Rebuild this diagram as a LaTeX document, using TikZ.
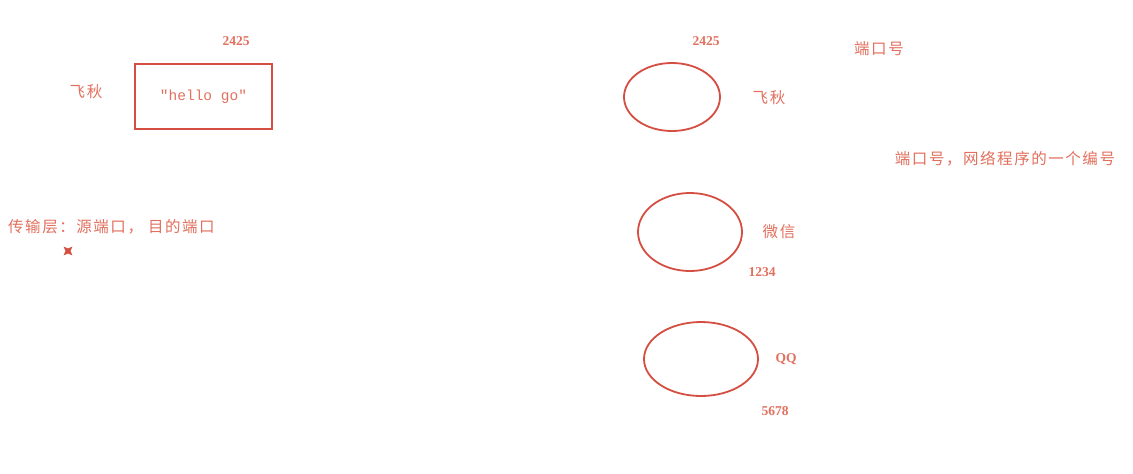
\documentclass[tikz,border=0pt]{standalone}
\usepackage{fontspec}
\setmainfont{Liberation Serif}
\setmonofont{Liberation Mono}
\newfontfamily\cjk[LetterSpace=10]{Noto Sans CJK SC}
\usetikzlibrary{positioning, shapes.geometric}
\definecolor{penline}{RGB}{212,78,66}
\definecolor{pentext}{RGB}{226,112,94}

\begin{document}
\begin{tikzpicture}[x=1pt, y=-1pt]
        % pixel grid of the board, y runs downwards
        \tikzstyle{port}=[ellipse, draw=penline, line width=1.8pt, inner sep=0pt]
        \tikzstyle{hanzi}=[text=pentext, inner sep=0pt, font=\cjk\fontsize{15.5}{17}\selectfont]
        \tikzstyle{num}=[text=pentext, inner sep=0pt, font=\bfseries\fontsize{13.5}{15}\selectfont]

        \useasboundingbox[fill=white] (0,0) rectangle (1133,474);

        % left: the packet
        \node[draw=penline, line width=1.8pt, minimum width=137pt, minimum height=65pt,
              text=pentext, font=\ttfamily\fontsize{14.5}{16}\selectfont] (msg) at (203.5,96.5) {"hello go"};
        \node[num] (msgport) at (236,41) {2425};
        \node[hanzi] (sender) at (86,92) {飞秋};
        \node[hanzi, anchor=west] (layer) at (8,227) {传输层：源端口， 目的端口};
        \node[star, star points=4, star point ratio=0.4, fill=penline, inner sep=0pt,
              minimum size=5pt] (mark) at (68,251) {};

        % right: programs on one host
        \node[port, minimum width=96pt, minimum height=68pt] (feiqiu) at (672,97) {};
        \node[port, minimum width=104pt, minimum height=78pt] (weixin) at (690,232) {};
        \node[port, minimum width=114pt, minimum height=74pt] (qq) at (701,359) {};

        \node[num] at (706,41) {2425};
        \node[hanzi] at (769,98) {飞秋};
        \node[hanzi] at (779,232) {微信};
        \node[num] at (762,272) {1234};
        \node[num] at (786,359) {QQ};
        \node[num] at (775,411) {5678};

        \node[hanzi] (title) at (879,49) {端口号};
        \node[hanzi] (note) at (1005,159) {端口号，网络程序的一个编号};
      \end{tikzpicture}
\end{document}
